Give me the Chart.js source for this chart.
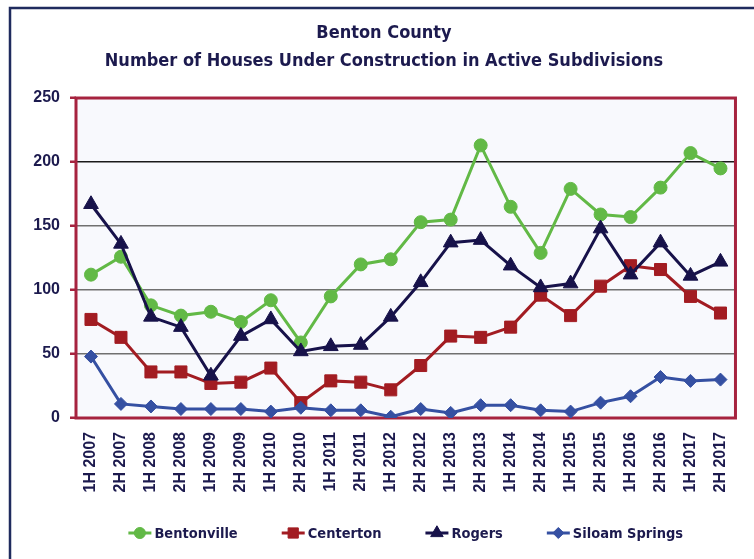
<!DOCTYPE html>
<html><head><meta charset="utf-8">
<script src="https://cdn.jsdelivr.net/npm/chart.js@4"></script>
<style>html,body{margin:0;padding:0;background:#fff}#wrap{width:754px;height:559px;position:relative}</style>
</head><body><div id="wrap"><canvas id="c" width="754" height="559"></canvas></div>
<script>
const categories = ["1H 2007","2H 2007","1H 2008","2H 2008","1H 2009","2H 2009","1H 2010","2H 2010","1H 2011","2H 2011","1H 2012","2H 2012","1H 2013","2H 2013","1H 2014","2H 2014","1H 2015","2H 2015","1H 2016","2H 2016","1H 2017","2H 2017"];
const bentonville = [112,126,88,80,83,75,92,59,95,120,124,153,155,213,165,129,179,159,157,180,207,195];
const centerton = [77,63,36,36,27,28,39,12,29,28,22,41,64,63,71,96,80,103,119,116,95,82];
const rogers = [167,136,79,71,33,64,77,52,56,57,79,106,137,139,119,102,105,148,112,137,111,122];
const siloamSprings = [48,11,9,7,7,7,5,8,6,6,1,7,4,10,10,6,5,12,17,32,29,30];
const yTicks = [0,50,100,150,200,250];
const titleLines = ["Benton County","Number of Houses Under Construction in Active Subdivisions"];
const seriesNames = ["Bentonville","Centerton","Rogers","Siloam Springs"];

const NAVY = '#1c1a4e';
const NARROW = '"DejaVu Sans Condensed", "Liberation Sans Narrow", sans-serif';
const WIDE = '"Liberation Sans", Arial, sans-serif';

const framePlugin = {
  id: 'frame',
  beforeDraw(chart) {
    const ctx = chart.ctx, a = chart.chartArea;
    ctx.save();
    ctx.fillStyle = '#ffffff';
    ctx.fillRect(0, 0, chart.width, chart.height);
    ctx.strokeStyle = '#1f2b5e';
    ctx.lineWidth = 2.5;
    ctx.strokeRect(10, 8, 900, 700);
    ctx.fillStyle = '#f8f9fd';
    ctx.fillRect(a.left, a.top, a.right - a.left, a.bottom - a.top);
    ctx.restore();
  },
  beforeDatasetsDraw(chart) {
    const ctx = chart.ctx, a = chart.chartArea;
    ctx.save();
    ctx.strokeStyle = '#a6233f';
    ctx.lineWidth = 3;
    ctx.strokeRect(a.left, a.top, a.right - a.left, a.bottom - a.top);
    ctx.restore();
  },
  afterDraw(chart) {
    const ctx = chart.ctx, a = chart.chartArea;
    const ds = chart.data.datasets;
    ctx.save();
    ctx.font = 'bold 14.5px ' + NARROW;
    ctx.textBaseline = 'middle';
    const lineLen = 23, gapText = 3, gapItem = 44;
    const widths = ds.map(d => lineLen + gapText + ctx.measureText(d.label).width);
    const total = widths.reduce((s, w) => s + w, 0) + gapItem * (ds.length - 1);
    let x = (a.left + a.right) / 2 - total / 2;
    const y = 533;
    ds.forEach((d, i) => {
      ctx.strokeStyle = d.borderColor;
      ctx.fillStyle = d.backgroundColor;
      ctx.lineWidth = 3;
      ctx.beginPath(); ctx.moveTo(x, y); ctx.lineTo(x + lineLen, y); ctx.stroke();
      ctx.lineWidth = 1;
      Chart.helpers.drawPoint(ctx, {pointStyle: d.pointStyle, radius: d.pointRadius * 0.85, rotation: 0, borderWidth: 1}, x + lineLen / 2, y);
      ctx.fillStyle = NAVY;
      ctx.textAlign = 'left';
      ctx.fillText(d.label, x + lineLen + gapText, y + 1);
      x += widths[i] + gapItem;
    });
    ctx.restore();
  }
};

function mk(label, data, color, style, r, order) {
  return {label, data, borderColor: color, backgroundColor: color, pointBackgroundColor: color, pointBorderColor: color,
    pointStyle: style, pointRadius: r, pointHoverRadius: r, borderWidth: 3, pointBorderWidth: 1, tension: 0, order};
}

new Chart(document.getElementById('c'), {
  type: 'line',
  data: {
    labels: categories,
    datasets: [
      mk(seriesNames[0], bentonville, '#62b946', 'circle', 6.5, 4),
      mk(seriesNames[1], centerton, '#a21c22', 'rect', 8.5, 3),
      mk(seriesNames[2], rogers, '#17124a', 'triangle', 8.5, 2),
      mk(seriesNames[3], siloamSprings, '#3550a2', 'rectRot', 6.5, 1)
    ]
  },
  options: {
    responsive: false, animation: false, devicePixelRatio: 1,
    layout: {padding: {left: 28, right: 14, top: 0, bottom: 51}},
    plugins: {
      legend: {display: false},
      tooltip: {enabled: false},
      title: {display: true, text: titleLines, color: NAVY,
        font: {family: NARROW, size: 18, weight: 'bold', lineHeight: 1.556},
        padding: {top: 19, bottom: 23}}
    },
    scales: {
      x: {
        offset: true,
        grid: {display: false, drawTicks: false},
        border: {display: false},
        ticks: {color: NAVY, font: {family: WIDE, size: 16, weight: 'bold'}, minRotation: 90, maxRotation: 90, padding: 14, autoSkip: false},
        afterFit(s) { s.height = 90; }
      },
      y: {
        min: 0, max: 250,
        afterBuildTicks(s) { s.ticks = yTicks.map(v => ({value: v})); },
        grid: {color: c => (c.tick && c.tick.value === 200) ? '#1a1a1a' : '#707070', lineWidth: 1.5, tickColor: '#a6233f', tickLength: 6, tickWidth: 2.5},
        border: {display: false},
        ticks: {color: NAVY, font: {family: WIDE, size: 16, weight: 'bold'}, padding: 10},
        afterFit(s) { s.width = 48; }
      }
    }
  },
  plugins: [framePlugin]
});
</script></body></html>
